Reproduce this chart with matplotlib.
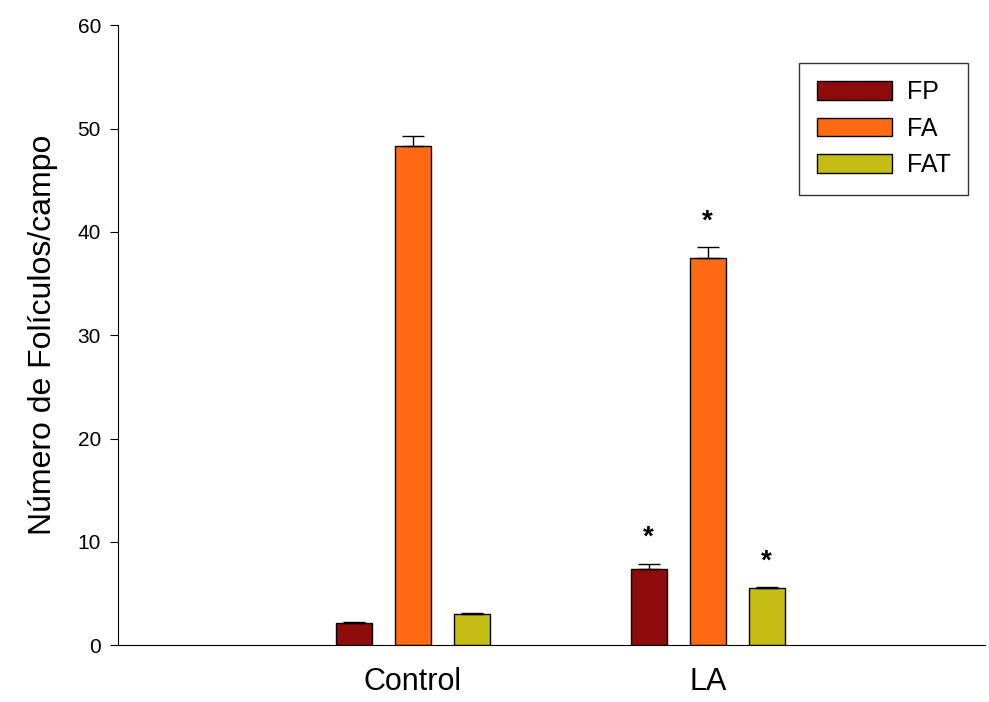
import numpy as np
import matplotlib
matplotlib.use("Agg")
from matplotlib import pyplot as plt

plt.rcParams['font.family'] = ['Liberation Sans', 'DejaVu Sans']

groups = ["Control", "LA"]
series = ["FP", "FA", "FAT"]
values = {
    "FP": [2.1, 7.4],
    "FA": [48.3, 37.5],
    "FAT": [3.0, 5.5],
}
errors = {
    "FP": [0.1, 0.5],
    "FA": [1.0, 1.0],
    "FAT": [0.1, 0.15],
}
signif = {
    "FP": [False, True],
    "FA": [False, True],
    "FAT": [False, True],
}
colors = {"FP": "#8e0c0c", "FA": "#ff6a12", "FAT": "#c4bd14"}

fig = plt.figure(figsize=(9.89, 7.02), dpi=100)
ax = fig.add_axes([0.119, 0.081, 0.877, 0.883])

x = np.arange(len(groups))
offsets = [-0.2, 0.0, 0.2]
width = 0.122

for s, off in zip(series, offsets):
    ax.bar(x + off, values[s], width, color=colors[s], edgecolor="black",
           linewidth=1.0, label=s,
           yerr=[[0] * len(groups), errors[s]],
           error_kw=dict(ecolor="black", elinewidth=1.0, capsize=8, capthick=1.0))
    for i in range(len(groups)):
        if signif[s][i]:
            ax.text(x[i] + off, values[s][i] + errors[s][i] + 1.2, "*",
                    ha="center", va="bottom", fontsize=20, fontweight="bold")

ax.set_xlim(-1.0, 1.94)
ax.set_ylim(0, 60)
ax.set_yticks(range(0, 61, 10))
ax.set_xticks(x)
ax.set_xticklabels(groups, fontsize=22)
ax.tick_params(axis="x", length=0, pad=16)
ax.tick_params(axis="y", labelsize=15, length=6, direction="out", pad=6)
ax.set_ylabel("Número de Folículos/campo", fontsize=23, labelpad=14)

ax.spines["top"].set_visible(False)
ax.spines["right"].set_visible(False)

leg = ax.legend(loc="upper right", bbox_to_anchor=(0.995, 0.96), fontsize=18,
                frameon=True, fancybox=False, edgecolor="black",
                handlelength=3.0, handleheight=0.75, borderpad=0.7,
                labelspacing=0.5, handletextpad=0.6)
leg.get_frame().set_linewidth(1.0)

fig.savefig("out.png", dpi=100)
